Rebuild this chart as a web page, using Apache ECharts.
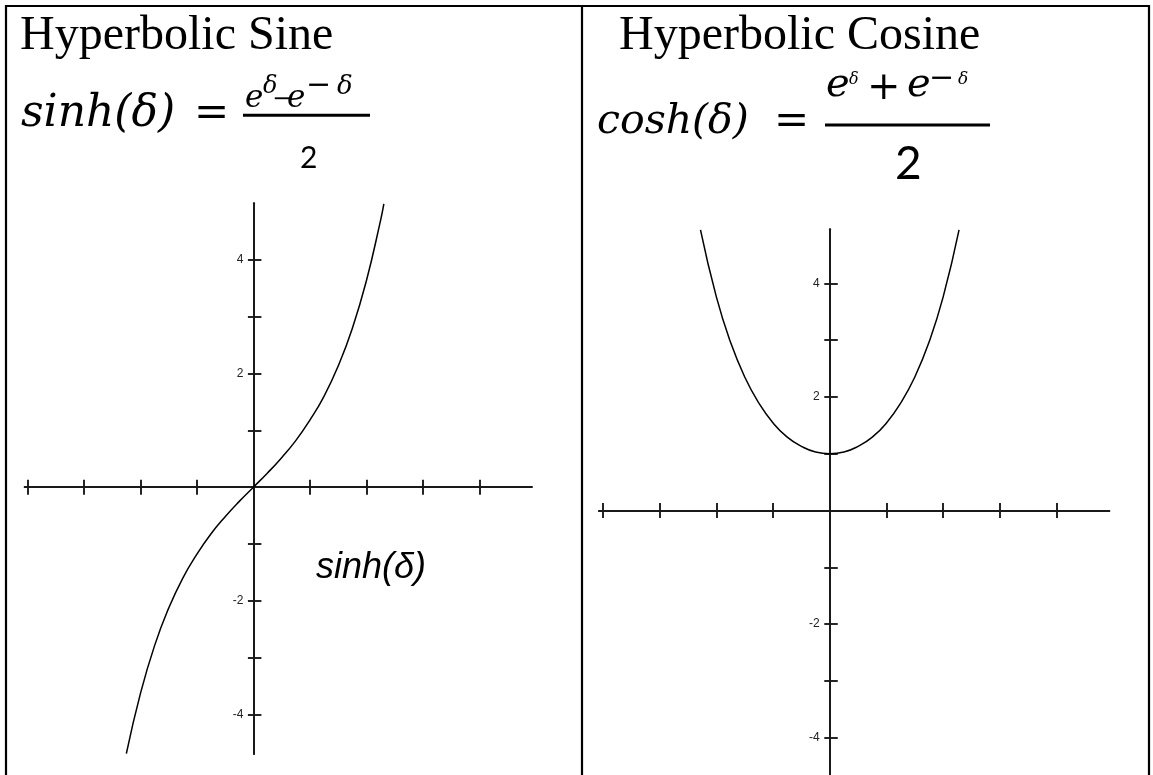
<!DOCTYPE html>
<html>
<head>
<meta charset="utf-8">
<script src="https://cdn.jsdelivr.net/npm/echarts@6/dist/echarts.min.js"></script>
<style>
  html, body { margin: 0; padding: 0; background: #fff; }
  #chart { width: 1153px; height: 775px; }
</style>
</head>
<body>
<div id="chart"></div>
<script>
// Curve samples: δ and the function value at that δ
const sinhDelta = [-2.25, -2, -1.75, -1.5, -1.25, -1, -0.75, -0.5, -0.25, 0, 0.25, 0.5, 0.75, 1, 1.25, 1.5, 1.75, 2, 2.25, 2.31];
const sinhValue = [-4.69, -3.63, -2.79, -2.13, -1.60, -1.18, -0.82, -0.52, -0.25, 0, 0.25, 0.52, 0.82, 1.18, 1.60, 2.13, 2.79, 3.63, 4.69, 4.99];

const coshDelta = [-2.28, -2, -1.75, -1.5, -1.25, -1, -0.75, -0.5, -0.25, 0, 0.25, 0.5, 0.75, 1, 1.25, 1.5, 1.75, 2, 2.28];
const coshValue = [4.94, 3.76, 2.96, 2.35, 1.89, 1.54, 1.29, 1.13, 1.03, 1, 1.03, 1.13, 1.29, 1.54, 1.89, 2.35, 2.96, 3.76, 4.94];

// Tick marks on both axes, and the labelled values on the vertical axis
const tickValues = [-4, -3, -2, -1, 1, 2, 3, 4];
const yLabelValues = [-4, -2, 2, 4];

// Axis ranges of the two plots
const sinhXRange = [-4.05, 4.93];
const sinhYRange = [-4.7, 5];
const coshXRange = [-4.07, 4.93];
const coshYRange = [-4.75, 4.95];

const AXIS_COLOR = '#1a1a1a';
const AXIS_W = 1.9;
const axisLineStyle = { color: AXIS_COLOR, width: AXIS_W };

// Horizontal axis drawn through y = 0, with ticks crossing it (one axis ticks down, one up)
function crossXAxes(gridIndex, yIndex, range) {
  return ['bottom', 'top'].map(pos => ({
    gridIndex, type: 'value', min: range[0], max: range[1], position: pos,
    splitLine: { show: false }, axisLabel: { show: false },
    axisLine: { show: true, onZero: true, onZeroAxisIndex: yIndex, lineStyle: axisLineStyle },
    axisTick: { show: true, length: 7.5, customValues: tickValues, lineStyle: axisLineStyle }
  }));
}
// Value axis used by the curve only (not drawn)
function plainAxis(gridIndex, range) {
  return { gridIndex, type: 'value', min: range[0], max: range[1], show: false, axisLine: { onZero: false } };
}
// Vertical axis at δ = 0: sits on the left edge of a grid that starts at δ = 0
function crossYAxes(gridIndex, range) {
  return [
    {
      gridIndex, type: 'value', min: range[0], max: range[1], position: 'left',
      splitLine: { show: false },
      axisLine: { show: true, onZero: false, lineStyle: axisLineStyle },
      axisTick: { show: true, length: 5.5, customValues: tickValues, lineStyle: axisLineStyle },
      axisLabel: {
        show: true, customValues: yLabelValues, margin: 10,
        fontFamily: '"Liberation Sans", Arial, sans-serif', fontSize: 12, color: '#222'
      }
    },
    {
      gridIndex, type: 'value', min: range[0], max: range[1], position: 'left',
      splitLine: { show: false },
      axisLine: { show: true, onZero: false, lineStyle: axisLineStyle },
      axisTick: { show: true, inside: true, length: 8, customValues: tickValues, lineStyle: axisLineStyle },
      axisLabel: { show: false }
    }
  ];
}

function pairs(xs, ys) { return xs.map((x, i) => [x, ys[i]]); }

// Text helper: y is the middle line of the em box
function txt(text, x, y, font, align) {
  return {
    type: 'text', x, y, silent: true,
    style: {
      text, font, fill: '#000',
      align: align || 'left', textAlign: align || 'left',
      verticalAlign: 'middle', textVerticalAlign: 'middle'
    }
  };
}
function hline(x1, x2, y, w) {
  return { type: 'line', silent: true, shape: { x1, y1: y, x2, y2: y }, style: { stroke: '#000', lineWidth: w } };
}
function vline(x, y1, y2, w) {
  return { type: 'line', silent: true, shape: { x1: x, y1, x2: x, y2 }, style: { stroke: '#000', lineWidth: w } };
}

const SERIF = '"Liberation Serif", "Times New Roman", serif';
const MATH = '"DejaVu Serif", serif';
const DIGIT = 'Lato, "Open Sans", sans-serif';

const W = 1153, H = 775;
// plot boxes in pixels
const sinhBox = { left: 24.7, right: 531.8, top: 203.2, bottom: 754.1 };
const coshBox = { left: 599, right: 1109.3, top: 229.3, bottom: 780.3 };
function zeroX(box, range) { return box.left + (0 - range[0]) / (range[1] - range[0]) * (box.right - box.left); }
function gridOf(box) { return { left: box.left, right: W - box.right, top: box.top, bottom: H - box.bottom, outerBoundsMode: 'none' }; }
function yGridOf(box, range) {
  const zx = zeroX(box, range);
  return { left: zx, right: W - zx - 100, top: box.top, bottom: H - box.bottom, outerBoundsMode: 'none' };
}

const chart = echarts.init(document.getElementById('chart'), null, { renderer: 'canvas' });

chart.setOption({
  animation: false,
  backgroundColor: '#fff',
  grid: [
    gridOf(sinhBox), yGridOf(sinhBox, sinhXRange),
    gridOf(coshBox), yGridOf(coshBox, coshXRange)
  ],
  xAxis: [].concat(
    crossXAxes(0, 0, sinhXRange), [plainAxis(1, [0, 1])],
    crossXAxes(2, 3, coshXRange), [plainAxis(3, [0, 1])]
  ),
  yAxis: [].concat(
    [plainAxis(0, sinhYRange)], crossYAxes(1, sinhYRange),
    [plainAxis(2, coshYRange)], crossYAxes(3, coshYRange)
  ),
  series: [
    {
      name: 'sinh', type: 'line', xAxisIndex: 0, yAxisIndex: 0,
      data: pairs(sinhDelta, sinhValue), smooth: true, showSymbol: false, clip: false, silent: true,
      lineStyle: { color: '#000', width: 1.5 }
    },
    {
      name: 'cosh', type: 'line', xAxisIndex: 3, yAxisIndex: 3,
      data: pairs(coshDelta, coshValue), smooth: true, showSymbol: false, clip: false, silent: true,
      lineStyle: { color: '#000', width: 1.5 }
    }
  ],
  graphic: {
    elements: [
      // table frame
      hline(5, 1150, 6, 2.2),
      vline(6, 5, 775, 2.2),
      vline(582, 5, 775, 2.2),
      vline(1149, 5, 775, 2.2),

      // headings
      txt('Hyperbolic Sine', 20, 36, '48px ' + SERIF),
      txt('Hyperbolic Cosine', 619, 36, '48px ' + SERIF),

      // sinh definition
      txt('sinh(δ)', 21, 114.5, 'italic 44px ' + MATH),
      txt('=', 194, 115, '42px ' + MATH),
      txt('e', 245, 98.5, 'italic 31px ' + MATH),
      txt('δ', 263, 87, 'italic 24px ' + MATH),
      txt('−', 272, 100, '24px ' + MATH),
      txt('e', 287, 98.5, 'italic 31px ' + MATH),
      txt('−', 306, 86, '30px ' + MATH),
      txt('δ', 337, 87, 'italic 26px ' + MATH),
      { type: 'rect', silent: true, shape: { x: 243, y: 113.8, width: 127, height: 3 }, style: { fill: '#000' } },
      txt('2', 300, 158.4, '30px ' + DIGIT),

      // cosh definition
      txt('cosh(δ)', 597, 122, 'italic 41px ' + MATH),
      txt('=', 774, 123, '42px ' + MATH),
      txt('e', 826, 86, 'italic 40px ' + MATH),
      txt('δ', 849, 80, 'italic 16px ' + MATH),
      txt('+', 867, 89, '40px ' + MATH),
      txt('e', 907, 86, 'italic 40px ' + MATH),
      txt('−', 929, 79, '30px ' + MATH),
      txt('δ', 958, 80, 'italic 17px ' + MATH),
      { type: 'rect', silent: true, shape: { x: 825, y: 123.5, width: 165, height: 3 }, style: { fill: '#000' } },
      txt('2', 895, 164, '46px ' + DIGIT),

      // curve caption
      txt('sinh(δ)', 316, 568, 'italic 36px "Liberation Sans", Arial, sans-serif')
    ]
  }
});
</script>
</body>
</html>
